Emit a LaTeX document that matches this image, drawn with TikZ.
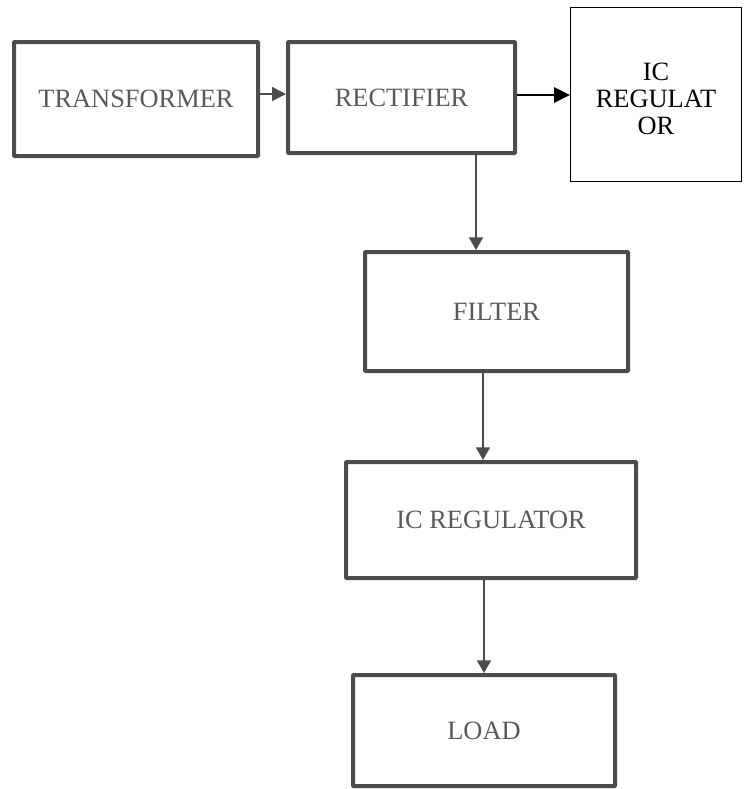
\documentclass[tikz,border=0pt]{standalone}
\usepackage{fontspec}
\setmainfont{Liberation Serif}
\usetikzlibrary{calc, arrows.meta}
\colorlet{boxgray}{black!70}
\colorlet{txtgray}{black!65}

\begin{document}
\begin{tikzpicture}[x=.75pt, y=-.75pt, >={Triangle[length=9.5pt, width=10.5pt]}]
	\def\blw{3pt}		% block line width
	\def\alw{1.2pt}		% arrow line width
	\def\fs{\fontsize{19.8}{20.25}\selectfont}	% text size

	\tikzset{
		block/.style={draw=boxgray, line width=\blw, rounded corners=.6pt,
			text=txtgray, font=\fs, inner sep=0pt},
		flow/.style={draw=boxgray, line width=\alw, ->},
	}

	\useasboundingbox (0,0) rectangle (743,789);

	% Blocks
	\node[block, minimum width=183pt, minimum height=85.5pt] (transformer) at (136, 99) {TRANSFORMER};
	\node[block, minimum width=170.25pt, minimum height=83.25pt] (rectifier) at (401.5, 97.5) {RECTIFIER};
	\node[draw=black, line width=.75pt, inner sep=0pt,
		minimum width=128.25pt, minimum height=130.5pt] (icside) at (656, 94.5) {};
	\node[font=\fs, align=center, inner sep=0pt] (icsidetxt) at ($(icside.center)+(0,4)$) {IC\\REGULAT\\OR};
	\node[block, minimum width=197.25pt, minimum height=89.25pt] (filter) at (496.5, 311.5) {FILTER};
	\node[block, minimum width=217.5pt, minimum height=87pt] (icreg) at (491, 520) {IC REGULATOR};
	\node[block, minimum width=196.5pt, minimum height=83.25pt] (load) at (484, 730.5) {LOAD};

	% Connectors
	\draw[flow, -{Triangle[length=10.5pt, width=10.5pt]}] (transformer.east) ++(-4,-5) coordinate (t1) -- (t1 -| rectifier.west);
	\draw[line width=1.5pt, -{Triangle[length=12pt, width=11.5pt]}] (rectifier.east) ++(0,-2.5) coordinate (r2) -- (r2 -| icside.west);
	\draw[flow] (rectifier.south) ++(74.5,0) coordinate (r1) -- (r1 |- filter.north);
	\draw[flow] (filter.south) ++(-13.5,0) coordinate (f1) -- (f1 |- icreg.north);
	\draw[flow] (icreg.south) ++(-7,0) coordinate (i1) -- (i1 |- load.north);

\end{tikzpicture}
\end{document}
